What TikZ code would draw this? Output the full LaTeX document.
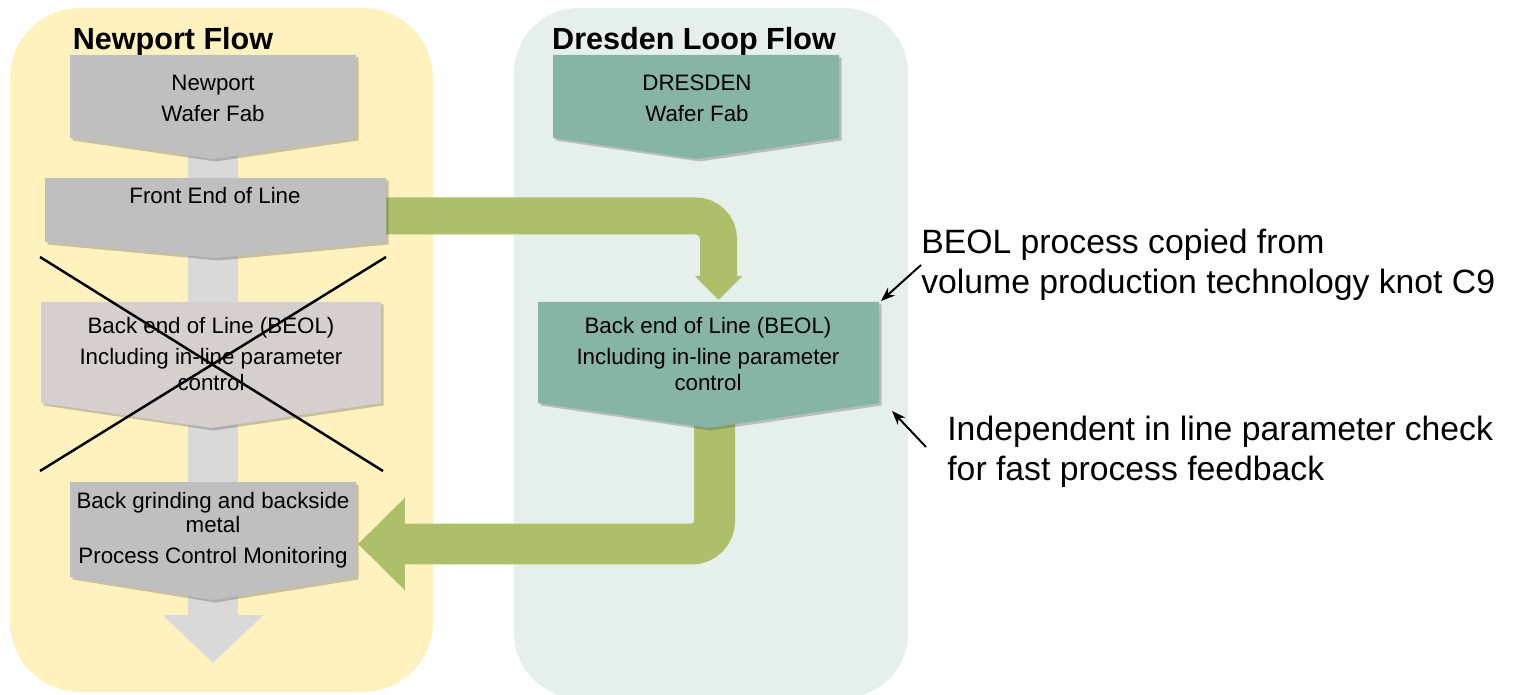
\documentclass[tikz,border=0pt]{standalone}
\usepackage{fontspec}
\setmainfont{Liberation Sans}
\usetikzlibrary{arrows.meta,shadows,positioning}

\definecolor{panelyellow}{HTML}{FFF2BF}
\definecolor{panelgreen}{HTML}{E5EFEB}
\definecolor{boxgray}{HTML}{BFBFBF}
\definecolor{boxrose}{HTML}{D5CFCF}
\definecolor{boxteal}{HTML}{86B5A6}
\definecolor{linkgray}{HTML}{D9D9D9}
\definecolor{flowgreen}{HTML}{ADC069}

\begin{document}
\begin{tikzpicture}[x=0.02cm, y=-0.02cm,
    chevron/.style={drop shadow={shadow xshift=0.05cm, shadow yshift=-0.05cm, opacity=0.3, fill=black!70}},
    boxtext/.style={align=center, inner sep=0pt, font=\fontsize{12.7}{17.6}\selectfont},
    title/.style={inner sep=0pt, font=\fontsize{17.4}{20}\selectfont\bfseries},
    note/.style={align=left, anchor=west, inner sep=0pt, font=\fontsize{19.2}{22.7}\selectfont},
    noteline/.style={-{Stealth[length=8pt,width=6pt]}, line width=1.1pt},
    greenflow/.style={draw=flowgreen, rounded corners=0.46cm},
    cross/.style={line width=1.4pt}
]
    \useasboundingbox (0,0) rectangle (1517,695);

    % Panels
    \fill[panelyellow, rounded corners=1.4cm] (10,8) rectangle (433,692);
    \fill[panelgreen, rounded corners=1.3cm] (514,8) rectangle (908,698);
    \node[title] (newtitle) at (173,42) {Newport Flow};
    \node[title] (drestitle) at (694,42) {Dresden Loop Flow};

    % Anchor points of the flow
    \coordinate (nwtip) at (213,150);
    \coordinate (outtip) at (213,663);
    \coordinate (feedge) at (380,216);
    \coordinate (b2top) at (718.5,300);
    \coordinate (b2foot) at (714.5,420);
    \coordinate (grindedge) at (358,544);

    % Flow connectors
    \draw[draw=linkgray, line width=1.02cm, -{Triangle[length=0.96cm, width=1.96cm]}] (nwtip) -- (outtip);
    \draw[greenflow, line width=0.74cm, -{Triangle[length=0.48cm, width=0.92cm]}] (feedge) -| (b2top);
    \draw[greenflow, line width=0.82cm, -{Triangle[length=0.94cm, width=1.8cm]}] (b2foot) |- (grindedge);

    % Newport Flow
    \fill[boxgray, chevron] (70,55) -- (356,55) -- (356,138) -- (213,159) -- (70,138) -- cycle;
    \fill[boxgray, chevron] (45,178) -- (386,178) -- (386,242) -- (216,258) -- (45,242) -- cycle;
    \fill[boxrose, chevron] (41,302) -- (381,302) -- (381,403) -- (211,428) -- (41,403) -- cycle;
    \fill[boxgray, chevron] (70,482) -- (356,482) -- (356,577) -- (213,600) -- (70,577) -- cycle;
    \node[boxtext] (newport) at (213,98) {Newport\\Wafer Fab};
    \node[boxtext] (feol) at (215,196) {Front End of Line};
    \node[boxtext] (beol1) at (211,354) {Back end of Line (BEOL)\\Including in-line parameter\\[-2.6pt]control};
    \node[boxtext] (grind) at (213,530) {Back grinding and backside\\[-3.6pt]metal\\Process Control Monitoring};
    \draw[cross] (40,257) -- (383,471);
    \draw[cross] (386,257) -- (40,471);

    % Dresden Loop Flow
    \fill[boxteal, chevron] (553,55) -- (839,55) -- (839,138) -- (697,159) -- (553,138) -- cycle;
    \fill[boxteal, chevron] (538,302) -- (879,302) -- (879,403) -- (708,428) -- (538,403) -- cycle;
    \node[boxtext] (dresden) at (697,98) {DRESDEN\\Wafer Fab};
    \node[boxtext] (beol2) at (708,354) {Back end of Line (BEOL)\\Including in-line parameter\\[-2.6pt]control};

    % Notes
    \node[note] (copied) at (921,265) {BEOL process copied from\\volume production technology knot C9};
    \node[note] (check) at (947,452) {Independent in line parameter check\\for fast process feedback};
    \coordinate (b2corner) at (881,301);
    \coordinate (chkfoot) at (926,447);
    \coordinate (b2side) at (892,411);
    \draw[noteline] (copied.west) -- (b2corner);
    \draw[noteline] (chkfoot) -- (b2side);
\end{tikzpicture}
\end{document}
